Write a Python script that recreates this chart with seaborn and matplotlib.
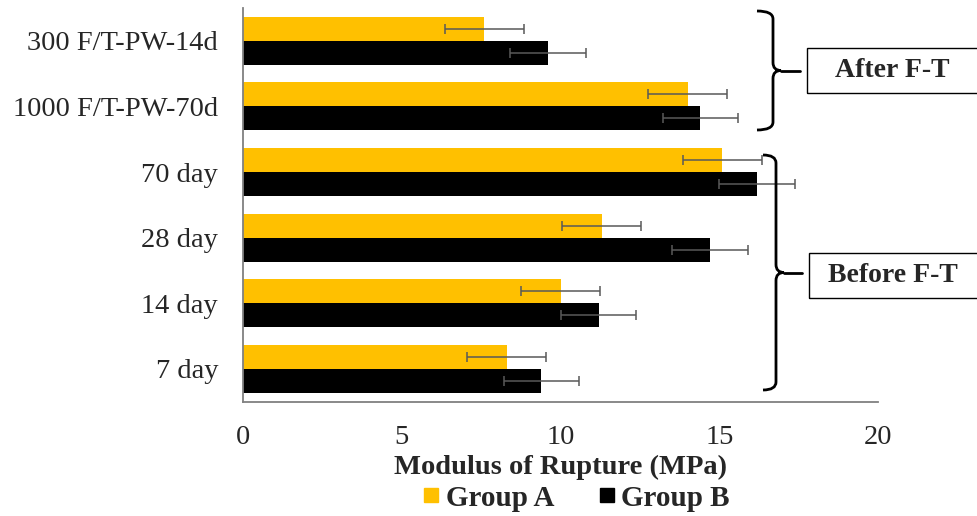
import matplotlib
matplotlib.use("Agg")
import matplotlib.pyplot as plt
from matplotlib.path import Path
from matplotlib.patches import PathPatch, Rectangle
from matplotlib.lines import Line2D
import seaborn as sns
import pandas as pd

# Modulus of rupture per curing / freeze-thaw condition
conditions = ["300 F/T-PW-14d", "1000 F/T-PW-70d", "70 day", "28 day", "14 day", "7 day"]
group_a = [7.6, 14.0, 15.1, 11.3, 10.0, 8.3]
group_b = [9.6, 14.4, 16.2, 14.7, 11.2, 9.4]
err_a = [1.24, 1.24, 1.24, 1.25, 1.25, 1.25]
err_b = [1.20, 1.18, 1.20, 1.19, 1.19, 1.18]
groups = ["Group A", "Group B"]
colors = ["#FFC000", "#000000"]
x_ticks = [0, 5, 10, 15, 20]

df = pd.DataFrame({
    "Condition": conditions * 2,
    "MOR": group_a + group_b,
    "Group": [groups[0]] * len(conditions) + [groups[1]] * len(conditions),
})

sns.set_style("white")
plt.rcParams["font.family"] = ["Liberation Serif", "DejaVu Serif"]

W, H = 977, 516
fig = plt.figure(figsize=(W / 100, H / 100), dpi=100)
ax = fig.add_axes([243 / W, 1 - 401.8 / H, (878 - 243) / W, (401.8 - 7.9) / H])

sns.barplot(data=df, y="Condition", x="MOR", hue="Group", orient="h",
            order=conditions, hue_order=groups, palette=colors,
            width=0.73, saturation=1, errorbar=None, legend=False,
            linewidth=0, ax=ax)

# error bars centred on each bar
for cont, vals, errs in zip(ax.containers, [group_a, group_b], [err_a, err_b]):
    ys = [b.get_y() + b.get_height() / 2 for b in cont]
    ax.errorbar(vals, ys, xerr=errs, fmt="none", ecolor="#595959",
                elinewidth=1.1, capsize=3.5, capthick=1.1, zorder=5)

ax.set_xlim(0, 20)
ax.set_ylim(len(conditions) - 0.5, -0.5)
ax.set_xticks(x_ticks)
ax.set_ylabel("")
ax.set_xlabel("Modulus of Rupture (MPa)", fontsize=20.5, fontweight="bold", labelpad=3)
ax.tick_params(axis="x", length=0, pad=17, labelsize=20.5)
ax.tick_params(axis="y", length=0, pad=18, labelsize=20.5)
for s in ["top", "right"]:
    ax.spines[s].set_visible(False)
for s in ["left", "bottom"]:
    ax.spines[s].set_color("#808080")
    ax.spines[s].set_linewidth(1.3)
ax.grid(False)


def px(x, y):
    return (x / W, 1 - y / H)


def brace(x_end, x_mid, x_tip, y_top, y_bot, r=8):
    ym = (y_top + y_bot) / 2
    verts = [px(x_end, y_top), px(x_mid, y_top), px(x_mid, y_top + r),
             px(x_mid, ym - r), px(x_mid, ym), px(x_mid + r, ym),
             px(x_mid, ym), px(x_mid, ym + r),
             px(x_mid, y_bot - r), px(x_mid, y_bot), px(x_end, y_bot)]
    codes = [Path.MOVETO, Path.CURVE3, Path.CURVE3,
             Path.LINETO, Path.CURVE3, Path.CURVE3,
             Path.CURVE3, Path.CURVE3,
             Path.LINETO, Path.CURVE3, Path.CURVE3]
    fig.add_artist(PathPatch(Path(verts, codes), fill=False, lw=2.0,
                             edgecolor="black", transform=fig.transFigure))
    fig.add_artist(Line2D([px(x_mid + r, ym)[0], px(x_tip, ym)[0]],
                          [px(0, ym)[1], px(0, ym)[1]], lw=2.0, color="black",
                          transform=fig.transFigure))


def label_box(x0, y0, y1, text):
    fig.add_artist(Rectangle(px(x0, y1), (W + 10 - x0) / W, (y1 - y0) / H,
                             fill=False, lw=1.0, edgecolor="black",
                             transform=fig.transFigure))
    fig.text((x0 + W) / 2 / W, 1 - (y0 + y1) / 2 / H, text, ha="center",
             va="center", fontsize=20, fontweight="bold")


brace(757, 773, 800, 11, 130)
label_box(807, 47.7, 92.7, "After F-T")
brace(763, 776, 802, 155, 390)
label_box(809, 252.7, 297.7, "Before F-T")

handles = [Line2D([], [], marker="s", linestyle="none", markersize=10,
                  markerfacecolor=c, markeredgecolor=c) for c in colors]
fig.legend(handles, groups, loc="center", bbox_to_anchor=(573 / W, 1 - 498 / H),
           ncol=2, frameon=False, prop={"size": 21, "weight": "bold"},
           handletextpad=0.0, columnspacing=1.3, handlelength=1.0)

fig.savefig("out.png", dpi=100)
